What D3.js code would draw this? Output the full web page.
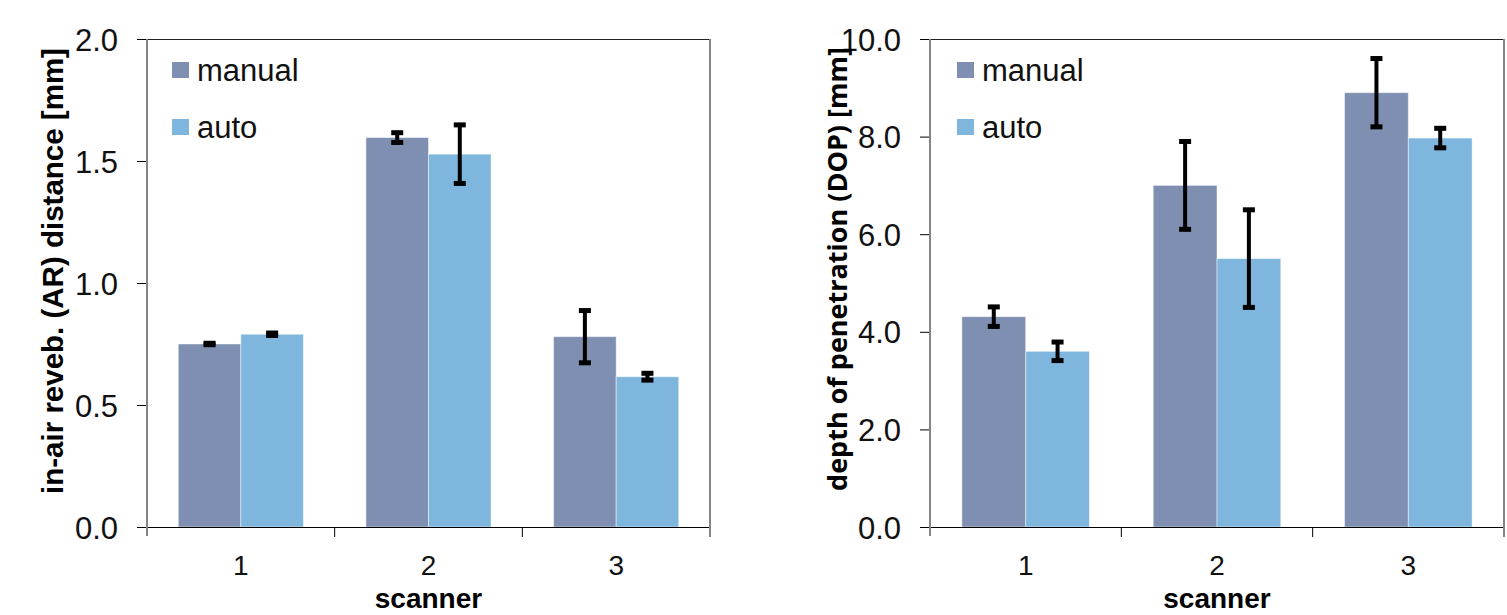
<!DOCTYPE html>
<html>
<head>
<meta charset="utf-8">
<script src="https://cdn.jsdelivr.net/npm/d3@7"></script>
<style>
  html, body { margin: 0; padding: 0; background: #fff; }
  svg { display: block; }
</style>
</head>
<body>
<svg id="chart" width="1507" height="615"></svg>
<script>
// ---- data ----
const categories = ["1", "2", "3"];
const seriesNames = ["manual", "auto"];
const seriesColors = ["#7f8fb1", "#7fb6de"];

const arManual = [0.75, 1.596, 0.78];
const arAuto = [0.79, 1.528, 0.616];
const arManualErr = [0.003, 0.02, 0.107];
const arAutoErr = [0.005, 0.12, 0.014];
const arTicks = [0.0, 0.5, 1.0, 1.5, 2.0];

const dopManual = [4.31, 7.0, 8.9];
const dopAuto = [3.6, 5.5, 7.97];
const dopManualErr = [0.2, 0.9, 0.7];
const dopAutoErr = [0.19, 1.0, 0.2];
const dopTicks = [0.0, 2.0, 4.0, 6.0, 8.0, 10.0];

const svg = d3.select("#chart");

function drawPanel(cfg) {
  const { left, right, top, bottom, domainMax, ticks, manual, auto, manualErr, autoErr,
          yLabel, yLabelX, yLabelDy, yLabelFont, yLabelSize, legendX } = cfg;
  const g = svg.append("g");

  const x0 = d3.scaleBand().domain(categories).range([left, right])
    .paddingInner(1 / 3).paddingOuter(1 / 6);
  const x1 = d3.scaleBand().domain(seriesNames).range([0, x0.bandwidth()]);
  const y = d3.scaleLinear().domain([0, domainMax]).range([bottom, top]);

  const values = [manual, auto];
  const errs = [manualErr, autoErr];

  // bars
  seriesNames.forEach((s, si) => {
    g.append("g").selectAll("rect").data(categories).join("rect")
      .attr("x", (c) => x0(c) + x1(s))
      .attr("width", x1.bandwidth())
      .attr("y", (c, i) => y(values[si][i]))
      .attr("height", (c, i) => y(0) - y(values[si][i]))
      .attr("fill", seriesColors[si])
      .attr("stroke", "rgba(255,255,255,0.45)")
      .attr("stroke-width", 1);
  });

  // error bars
  const capW = 12, capH = 5;
  seriesNames.forEach((s, si) => {
    const eg = g.append("g");
    categories.forEach((c, i) => {
      const cx = x0(c) + x1(s) + x1.bandwidth() / 2;
      const v = values[si][i], e = errs[si][i];
      eg.append("line")
        .attr("x1", cx).attr("x2", cx)
        .attr("y1", y(v + e)).attr("y2", y(v - e))
        .attr("stroke", "#000").attr("stroke-width", 4);
      [v + e, v - e].forEach((vv) => {
        eg.append("rect")
          .attr("x", cx - capW / 2).attr("width", capW)
          .attr("y", y(vv) - capH / 2).attr("height", capH)
          .attr("fill", "#000");
      });
    });
  });

  // y axis ticks and labels
  const yAxis = d3.axisLeft(y).tickValues(ticks).tickSize(10).tickPadding(19)
    .tickFormat(d3.format(".1f"));
  const ya = g.append("g").attr("transform", `translate(${left},0)`).call(yAxis);
  ya.select(".domain").remove();
  ya.selectAll(".tick line").attr("stroke", "#000").attr("stroke-width", 1);
  ya.selectAll(".tick text")
    .attr("font-family", "Liberation Sans, Arial, sans-serif")
    .attr("font-size", 31).attr("fill", "#111").attr("dy", "0.36em");

  // top border
  g.append("line").attr("x1", left).attr("x2", right).attr("y1", top + 0.5).attr("y2", top + 0.5)
    .attr("stroke", "#222").attr("stroke-width", 1);
  // bottom axis line
  g.append("line").attr("x1", left - 10).attr("x2", right).attr("y1", bottom + 0.5).attr("y2", bottom + 0.5)
    .attr("stroke", "#000").attr("stroke-width", 1.2);
  // left axis (gray) and right border (gray)
  g.append("line").attr("x1", left).attr("x2", left).attr("y1", top).attr("y2", bottom + 9)
    .attr("stroke", "#858585").attr("stroke-width", 2);
  g.append("line").attr("x1", right).attr("x2", right).attr("y1", top).attr("y2", bottom + 10)
    .attr("stroke", "#858585").attr("stroke-width", 2);
  // category boundary ticks
  const bounds = categories.slice(1).map((c) => x0(c) - x0.step() * x0.paddingOuter());
  g.append("g").selectAll("line").data(bounds).join("line")
    .attr("x1", (d) => d).attr("x2", (d) => d)
    .attr("y1", bottom).attr("y2", bottom + 10)
    .attr("stroke", "#000").attr("stroke-width", 1);

  // x labels
  const xAxis = d3.axisBottom(x0).tickSize(0).tickPadding(0);
  const xa = g.append("g").attr("transform", `translate(0,${bottom})`).call(xAxis);
  xa.select(".domain").remove();
  xa.selectAll(".tick text")
    .attr("font-family", "Liberation Sans, Arial, sans-serif")
    .attr("font-size", 28).attr("fill", "#111")
    .attr("dy", null).attr("y", 48);

  // x title
  g.append("text")
    .attr("x", (left + right) / 2).attr("y", 608)
    .attr("text-anchor", "middle")
    .attr("font-family", "Liberation Sans, Arial, sans-serif")
    .attr("font-weight", "bold").attr("font-size", 28)
    .attr("fill", "#000").text("scanner");

  // y title
  g.append("text")
    .attr("transform", `translate(${yLabelX},${(top + bottom) / 2 + yLabelDy}) rotate(-90)`)
    .attr("text-anchor", "middle")
    .attr("font-family", yLabelFont)
    .attr("font-weight", "bold").attr("font-size", yLabelSize)
    .attr("fill", "#000").text(yLabel);

  // legend
  const lg = g.append("g");
  seriesNames.forEach((s, si) => {
    const ly = 62 + si * 57;
    lg.append("rect").attr("x", legendX).attr("y", ly).attr("width", 17).attr("height", 16)
      .attr("fill", seriesColors[si]);
    lg.append("text").attr("x", legendX + 25).attr("y", ly + 19)
      .attr("font-family", "Liberation Sans, Arial, sans-serif")
      .attr("font-size", 31).attr("fill", "#111").text(s);
  });
}

drawPanel({
  left: 147, right: 710, top: 39, bottom: 527, domainMax: 2.0, ticks: arTicks,
  manual: arManual, auto: arAuto, manualErr: arManualErr, autoErr: arAutoErr,
  yLabel: "in-air reveb. (AR) distance [mm]", yLabelX: 63, yLabelDy: -12,
  yLabelFont: "Liberation Sans, Arial, sans-serif", yLabelSize: 29.5, legendX: 172
});

drawPanel({
  left: 930, right: 1504, top: 39, bottom: 527, domainMax: 10.0, ticks: dopTicks,
  manual: dopManual, auto: dopAuto, manualErr: dopManualErr, autoErr: dopAutoErr,
  yLabel: "depth of penetration (DOP) [mm]", yLabelX: 847, yLabelDy: -14,
  yLabelFont: "Open Sans, Liberation Sans, sans-serif", yLabelSize: 27, legendX: 957
});
</script>
</body>
</html>
